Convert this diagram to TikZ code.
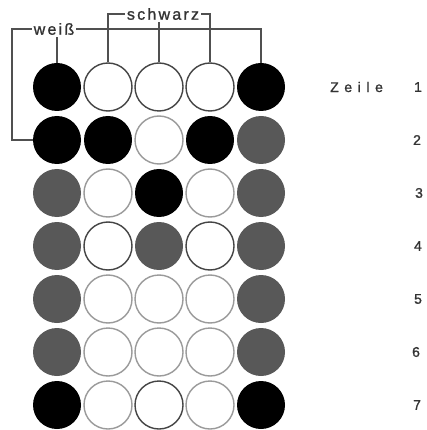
\documentclass[tikz,border=0pt]{standalone}
\usepackage{fontspec}
\setmainfont{Liberation Sans}[FakeBold=1.2]
\newfontfamily\spacedz[LetterSpace=40,FakeBold=1.2]{Liberation Sans}
\newfontfamily\spacedb[LetterSpace=14,FakeBold=1.2]{Liberation Sans}
\definecolor{darkfill}{HTML}{585858}
\definecolor{darkline}{HTML}{444444}
\definecolor{lightline}{HTML}{9A9A9A}
\definecolor{linecol}{HTML}{505050}
\definecolor{txtcol}{HTML}{333333}
\tikzset{
  dot/.style={circle, minimum size=48pt, inner sep=0pt},
  blk/.style={dot, fill=black},
  gry/.style={dot, fill=darkfill},
  wd/.style={dot, draw=darkline, line width=1.4pt, fill=white},
  wl/.style={dot, draw=lightline, line width=1.4pt, fill=white},
  lbl/.style={inner sep=2pt, text=txtcol, font=\spacedb\fontsize{16}{18}\selectfont},
  num/.style={inner sep=0pt, text=txtcol, font=\fontsize{14}{16}\selectfont},
  conn/.style={draw=linecol, line width=1.6pt}
}
\begin{document}
\begin{tikzpicture}[x=1pt,y=-1pt]
\useasboundingbox (0,0) rectangle (427,430);
% row 1
\node[blk] (c11) at (57,87) {};
\node[wd]  (c12) at (108,87) {};
\node[wd]  (c13) at (159,87) {};
\node[wd]  (c14) at (210,87) {};
\node[blk] (c15) at (261,87) {};
% row 2
\node[blk] (c21) at (57,140) {};
\node[blk] (c22) at (108,140) {};
\node[wl]  (c23) at (159,140) {};
\node[blk] (c24) at (210,140) {};
\node[gry] (c25) at (261,140) {};
% row 3
\node[gry] (c31) at (57,193) {};
\node[wl]  (c32) at (108,193) {};
\node[blk] (c33) at (159,193) {};
\node[wl]  (c34) at (210,193) {};
\node[gry] (c35) at (261,193) {};
% row 4
\node[gry] (c41) at (57,246) {};
\node[wd]  (c42) at (108,246) {};
\node[gry] (c43) at (159,246) {};
\node[wd]  (c44) at (210,246) {};
\node[gry] (c45) at (261,246) {};
% row 5
\node[gry] (c51) at (57,299) {};
\node[wl]  (c52) at (108,299) {};
\node[wl]  (c53) at (159,299) {};
\node[wl]  (c54) at (210,299) {};
\node[gry] (c55) at (261,299) {};
% row 6
\node[gry] (c61) at (57,352) {};
\node[wl]  (c62) at (108,352) {};
\node[wl]  (c63) at (159,352) {};
\node[wl]  (c64) at (210,352) {};
\node[gry] (c65) at (261,352) {};
% row 7
\node[blk] (c71) at (57,405) {};
\node[wl]  (c72) at (108,405) {};
\node[wd]  (c73) at (159,405) {};
\node[wl]  (c74) at (210,405) {};
\node[blk] (c75) at (261,405) {};
% labels
\node[lbl] (sw) at (163,14) {schwarz};
\node[lbl] (w) at (54,29) {weiß};
\coordinate (wl) at (12,29);
\draw[conn] (c12.north) |- (sw.west);
\draw[conn] (c14.north) |- (sw.east);
\draw[conn] (c13.north) -- (c13.north |- sw.south);
\draw[conn] (c11.north) -- (c11.north |- w.south);
\draw[conn] (w.east) -| (c15.north);
\draw[conn] (w.west) -- (wl) |- (c21.west);
% row labels
\node[num, font=\spacedz\fontsize{14}{16}\selectfont, anchor=west] (z) at (330,87) {Zeile};
\node[num] (r1) at (418,87) {1};
\node[num] (r2) at (417,140) {2};
\node[num] (r3) at (419,193) {3};
\node[num] (r4) at (418,246) {4};
\node[num] (r5) at (418,299) {5};
\node[num] (r6) at (416,352) {6};
\node[num] (r7) at (417,405) {7};
\end{tikzpicture}
\end{document}
